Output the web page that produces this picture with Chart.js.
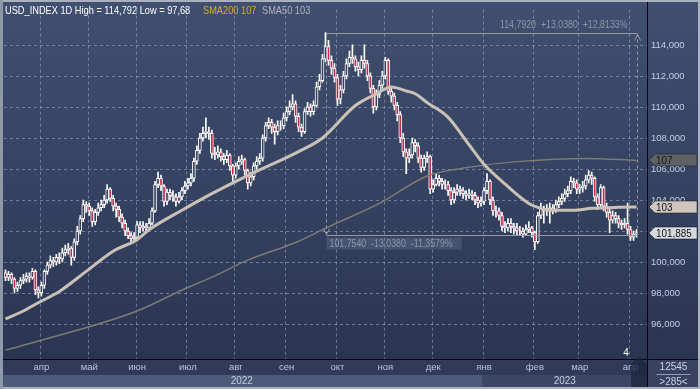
<!DOCTYPE html>
<html>
<head>
<meta charset="utf-8">
<style>
  html, body { margin: 0; padding: 0; background: #36425f; }
  canvas { display: block; }
</style>
</head>
<body>
<canvas id="myChart" width="700" height="389"></canvas>

<script src="https://cdn.jsdelivr.net/npm/chart.js"></script>

<script>
  // daily USD_INDEX candles, Mar 2022 - Apr 2023
  const firstOpen = 99.3
  const closes = [
    99.0, 99.2, 98.9, 98.3, 98.5, 98.8, 98.9, 99.1, 99.0, 99.4,
    98.2, 98.0, 98.5, 99.4, 99.8, 100.1, 100.0, 100.3, 100.2, 100.6,
    100.8, 100.9, 100.3, 101.3, 102.0, 102.8, 103.7, 103.6, 103.3, 102.6,
    103.2, 103.5, 103.7, 104.0, 104.7, 104.1, 103.6, 103.4, 102.9, 102.5,
    102.0, 101.7, 101.5, 101.6, 102.4, 102.2, 102.3, 102.2, 102.5, 103.3,
    105.0, 105.4, 104.9, 103.9, 104.5, 104.3, 104.2, 103.9, 104.2, 104.6,
    104.9, 105.1, 105.4, 106.5, 107.2, 108.0, 108.3, 108.4, 108.3, 107.0,
    106.9, 107.1, 106.8, 106.6, 106.9, 106.2, 105.6, 106.2, 106.5, 106.6,
    105.9, 105.1, 105.5, 106.2, 106.5, 106.7, 108.0, 108.8, 109.0, 108.7,
    108.4, 108.8, 108.8, 109.3, 109.7, 110.0, 110.2, 109.4, 108.7, 108.4,
    109.7, 110.0, 109.7, 110.1, 111.3, 111.7, 113.1, 113.9, 113.0, 112.5,
    111.9, 110.5, 111.1, 112.0, 112.8, 113.2, 113.1, 112.6, 112.4, 113.0,
    112.8, 112.0, 111.2, 110.0, 110.8, 111.4, 112.0, 113.0, 111.0, 110.7,
    110.1, 109.5, 108.0, 107.1, 106.7, 106.9, 107.7, 107.5, 106.7, 106.1,
    106.7, 106.8, 104.7, 105.0, 105.4, 105.2, 105.0, 105.0, 104.6, 104.0,
    104.5, 104.7, 104.6, 104.4, 104.3, 104.4, 104.3, 104.0, 103.8, 103.9,
    104.6, 105.2, 104.0, 103.3, 103.3, 103.0, 102.3, 102.2, 102.5, 102.3,
    102.2, 102.0, 102.0, 101.8, 102.1, 102.2, 101.9, 101.3, 103.0, 103.5,
    103.3, 103.4, 103.5, 103.4, 103.7, 103.9, 104.1, 104.4, 104.6, 105.2,
    105.1, 104.7, 104.8, 104.9, 105.3, 105.6, 105.4, 104.2, 103.7, 104.8,
    103.6, 103.2, 102.7, 103.0, 102.8, 102.5, 102.4, 102.5, 102.1, 101.6,
    101.8, 101.885
  ]
  const highs = [
    99.5, 99.4, 99.3, 99.0, 98.7, 99.0, 99.2, 99.3, 99.3, 99.6,
    99.5, 98.4, 98.7, 99.5, 100.0, 100.4, 100.3, 100.5, 100.6, 100.9,
    101.1, 101.2, 101.0, 101.5, 102.3, 103.0, 104.0, 103.9, 103.8, 103.5,
    103.4, 103.8, 104.0, 104.3, 105.0, 104.8, 104.3, 103.8, 103.6, 103.1,
    102.7, 102.2, 101.9, 101.9, 102.6, 102.6, 102.6, 102.5, 102.8, 103.5,
    105.2, 105.8, 105.6, 105.0, 104.7, 104.7, 104.6, 104.4, 104.5, 104.8,
    105.2, 105.4, 105.7, 106.7, 107.5, 108.3, 108.7, 109.3, 108.7, 108.5,
    107.4, 107.5, 107.3, 107.0, 107.2, 107.0, 106.3, 106.4, 106.8, 106.9,
    106.7, 106.0, 105.8, 106.4, 106.8, 107.0, 108.2, 109.0, 109.3, 109.2,
    108.9, 109.1, 109.1, 109.6, 110.0, 110.4, 110.8, 110.4, 109.6, 108.9,
    109.9, 110.3, 110.2, 110.4, 111.6, 112.1, 113.4, 114.792, 114.3, 113.3,
    112.8, 112.1, 111.4, 112.3, 113.1, 113.6, 114.0, 113.3, 112.9, 113.3,
    114.0, 113.0, 112.2, 111.4, 111.1, 111.7, 112.3, 113.2, 113.1, 111.2,
    110.9, 110.3, 109.7, 108.3, 107.3, 107.3, 108.0, 107.9, 107.7, 106.9,
    106.9, 107.1, 106.9, 105.3, 105.7, 105.6, 105.4, 105.3, 105.2, 104.8,
    104.8, 105.0, 104.9, 104.8, 104.6, 104.7, 104.6, 104.5, 104.2, 104.2,
    104.8, 105.7, 105.3, 104.2, 103.6, 103.5, 103.2, 102.6, 102.8, 102.8,
    102.5, 102.5, 102.3, 102.2, 102.4, 102.6, 102.3, 102.0, 103.2, 103.8,
    103.6, 103.7, 103.8, 103.7, 104.0, 104.2, 104.4, 104.7, 104.9, 105.5,
    105.4, 105.3, 105.0, 105.2, 105.6, 105.9, 105.8, 105.5, 104.4, 105.0,
    104.9, 103.8, 103.4, 103.3, 103.2, 103.0, 102.7, 102.8, 103.8, 102.3,
    102.0, 102.1
  ]
  const lows = [
    98.8, 98.8, 98.6, 98.0, 98.1, 98.3, 98.6, 98.7, 98.7, 98.9,
    97.9, 97.68, 97.8, 98.3, 99.2, 99.6, 99.7, 99.8, 99.9, 100.0,
    100.4, 100.5, 99.8, 100.1, 101.1, 101.8, 102.6, 103.2, 103.0, 102.3,
    102.4, 103.0, 103.3, 103.5, 103.8, 103.9, 103.3, 102.9, 102.6, 102.2,
    101.7, 101.5, 101.3, 101.3, 101.5, 101.9, 102.0, 101.9, 102.0, 102.4,
    103.2, 104.8, 104.6, 103.6, 103.7, 104.0, 103.9, 103.6, 103.8, 104.0,
    104.4, 104.7, 104.9, 105.2, 106.3, 107.0, 107.8, 108.0, 107.9, 106.7,
    106.6, 106.7, 106.5, 106.3, 106.4, 105.9, 105.2, 105.4, 106.0, 106.3,
    105.6, 104.7, 104.9, 105.3, 106.0, 106.3, 106.5, 107.8, 108.6, 108.3,
    107.6, 108.2, 108.5, 108.6, 109.1, 109.5, 109.8, 109.0, 108.4, 108.1,
    108.3, 109.5, 109.4, 109.5, 110.0, 111.1, 111.6, 112.9, 112.7, 112.1,
    111.6, 110.1, 110.2, 110.9, 111.8, 112.6, 112.8, 112.3, 112.0, 112.2,
    112.5, 111.7, 110.9, 109.6, 109.8, 110.6, 111.2, 111.8, 110.8, 110.3,
    109.8, 109.1, 107.7, 106.8, 105.7, 106.4, 106.7, 107.1, 106.4, 105.8,
    105.9, 106.4, 104.4, 104.5, 104.9, 104.9, 104.7, 104.7, 104.3, 103.7,
    103.8, 104.3, 104.3, 104.1, 104.0, 104.1, 104.0, 103.7, 103.5, 103.6,
    103.7, 104.4, 103.7, 103.0, 102.9, 102.7, 102.0, 101.9, 102.0, 101.9,
    101.8, 101.7, 101.7, 101.6, 101.7, 101.9, 101.6, 100.8, 101.2, 102.8,
    102.5, 103.0, 102.5, 103.1, 103.2, 103.5, 103.7, 103.9, 104.2, 104.4,
    104.8, 104.4, 104.4, 104.5, 104.7, 105.1, 105.0, 103.9, 103.4, 103.5,
    103.3, 102.9, 101.9, 102.5, 102.5, 102.2, 102.1, 102.2, 101.8, 101.4,
    101.4, 101.6
  ]

  // moving averages, [bar index, value]
  const sma50Knots = [
    [0, 96.33], [6, 96.84], [10, 97.28], [18, 98.1], [27, 99.4], [36, 100.7],
    [44, 101.44], [48, 102.08], [59, 103.34], [69, 104.41], [82, 105.67],
    [98, 107.12], [106, 108.0], [117, 110.09], [124, 110.85], [129, 111.29],
    [134, 111.03], [137, 110.85], [141, 110.28], [148, 109.33], [155, 107.56],
    [160, 106.3], [167, 105.04], [175, 103.78], [179, 103.46], [182, 103.34],
    [190, 103.34], [196, 103.46], [205, 103.53], [211, 103.55]
  ]
  const sma200Knots = [
    [0, 94.32], [12, 94.95], [44, 96.84], [58, 98.1], [70, 99.11], [81, 100.12],
    [97, 101.26], [108, 102.27], [125, 103.78], [141, 105.55], [155, 106.11],
    [172, 106.49], [194, 106.68], [211, 106.55]
  ]

  const monthTicks = { 12: 'апр', 28: 'май', 44: 'июн', 61: 'июл', 77: 'авг', 94: 'сен',
    111: 'окт', 127: 'ноя', 143: 'дек', 160: 'янв', 177: 'фев', 192: 'мар', 209: 'апр' }
  const yearTicks = { 79: '2022', 187: '2023' }
  const yearSplit = 160
  const yTicks = [96, 98, 100, 102, 104, 106, 108, 110, 112, 114]

  const rangeHigh = 114.792
  const rangeLow = 101.754
  const rangeFrom = 107

  const tagValues = [106.55, 103.55, 101.885]
  const tagTexts = ['107', '103', '101,885']

  const N_SLOTS = 215
  const labels = Array.from({ length: N_SLOTS }, (_, i) => String(i))
  const opens = closes.map((c, i) => i ? closes[i - 1] : firstOpen)

  function knotSeries(knots) {
    const s = new Array(closes.length).fill(null)
    knots.forEach(([i, v]) => { s[i] = v })
    return s
  }

  const fmt = (v, d) => v.toFixed(d).replace('.', ',')
  const FONT = '"Liberation Sans", sans-serif'

  // canvas text squeezed sideways, to get close to the narrow Tahoma look
  function narrowText(ctx, text, x, y, sx) {
    ctx.save()
    ctx.translate(x, y)
    ctx.scale(sx, 1)
    ctx.fillText(text, 0, 0)
    ctx.restore()
  }

  const decor = {
    id: 'decor',
    beforeDraw(chart) {
      const { ctx, chartArea: a, width, height } = chart
      const xs = chart.scales.x
      ctx.save()
      const g = ctx.createLinearGradient(0, 0, 0, a.bottom)
      g.addColorStop(0, '#415070')
      g.addColorStop(1, '#2a3553')
      ctx.fillStyle = g
      ctx.fillRect(0, 0, width, a.bottom)
      ctx.fillStyle = '#2f3b58'
      ctx.fillRect(0, a.bottom, width, 16)
      const split = xs.getPixelForValue(yearSplit) - xs.width / N_SLOTS / 2
      ctx.fillStyle = '#4b5b79'
      ctx.fillRect(0, a.bottom + 16, split, height - a.bottom - 16)
      ctx.fillStyle = '#3a4664'
      ctx.fillRect(split, a.bottom + 16, a.right - split, height - a.bottom - 16)
      ctx.fillStyle = '#36425f'
      ctx.fillRect(a.right, a.bottom, width - a.right, height - a.bottom)
      ctx.restore()
    },
    beforeDatasetsDraw(chart) {
      // dashed grid: month starts and price levels
      const { ctx, chartArea: a } = chart
      const xs = chart.scales.x, ys = chart.scales.y
      const step = xs.width / N_SLOTS
      ctx.save()
      ctx.strokeStyle = 'rgba(150,166,196,0.6)'
      ctx.lineWidth = 1
      ctx.setLineDash([3, 3])
      ctx.beginPath()
      Object.keys(monthTicks).forEach(k => {
        const x = Math.round(xs.getPixelForValue(Number(k)) - step / 2) + 0.5
        ctx.moveTo(x, a.top); ctx.lineTo(x, a.bottom)
      })
      yTicks.forEach(v => {
        const y = Math.round(ys.getPixelForValue(v)) + 0.5
        ctx.moveTo(a.left, y); ctx.lineTo(a.right, y)
      })
      ctx.stroke()
      ctx.restore()
    },
    afterDatasetsDraw(chart) {
      const { ctx } = chart
      const xs = chart.scales.x, ys = chart.scales.y
      const xl = Math.round(xs.getPixelForValue(rangeFrom)) + 0.5
      const xr = Math.round(xs.getPixelForValue(closes.length - 1)) + 0.5
      const yt = Math.round(ys.getPixelForValue(rangeHigh)) + 0.5
      const yb = Math.round(ys.getPixelForValue(rangeLow)) + 0.5
      ctx.save()
      ctx.strokeStyle = '#9499a4'
      ctx.lineWidth = 1
      ctx.beginPath()
      ctx.moveTo(xl, yt); ctx.lineTo(xr, yt)
      ctx.moveTo(xl, yb); ctx.lineTo(xr, yb)
      ctx.stroke()
      ctx.setLineDash([3, 3])
      ctx.beginPath()
      ctx.moveTo(xl, yt); ctx.lineTo(xl, yb)
      ctx.moveTo(xr, yt); ctx.lineTo(xr, yb)
      ctx.stroke()
      ctx.setLineDash([])
      ctx.beginPath()
      ctx.moveTo(xr - 3, yt + 7); ctx.lineTo(xr, yt + 1); ctx.lineTo(xr + 3, yt + 7)
      ctx.moveTo(xl - 3, yb - 7); ctx.lineTo(xl, yb - 1); ctx.lineTo(xl + 3, yb - 7)
      ctx.stroke()

      const diff = rangeHigh - rangeLow
      const sx = 0.88
      ctx.font = '10px ' + FONT
      ctx.fillStyle = '#8d96a9'
      ctx.textBaseline = 'alphabetic'
      ctx.textAlign = 'left'
      const highText = fmt(rangeHigh, 4) + '  +' + fmt(diff, 4) + '  +' + fmt(diff / rangeLow * 100, 4) + '%'
      const hw = ctx.measureText(highText).width * sx
      narrowText(ctx, highText, xr - 10 - hw, yt - 6, sx)
      const lowText = fmt(rangeLow, 4) + '  -' + fmt(diff, 4) + '  -' + fmt(diff / rangeHigh * 100, 4) + '%'
      const lw = ctx.measureText(lowText).width * sx
      ctx.fillStyle = 'rgba(110,125,150,0.35)'
      ctx.fillRect(xl, yb + 2, lw + 12, 12)
      ctx.fillStyle = '#8d96a9'
      narrowText(ctx, lowText, xl + 3, yb + 11, sx)
      ctx.restore()
    },
    afterDraw(chart) {
      const { ctx, chartArea: a, width, height } = chart
      const ys = chart.scales.y
      ctx.save()
      // separators
      ctx.strokeStyle = '#05070c'
      ctx.lineWidth = 1
      ctx.beginPath()
      ctx.moveTo(0, a.bottom + 0.5); ctx.lineTo(width, a.bottom + 0.5)
      ctx.moveTo(a.right + 0.5, 0); ctx.lineTo(a.right + 0.5, height)
      ctx.stroke()

      // title
      const sx = 0.84
      ctx.font = '11px ' + FONT
      ctx.textBaseline = 'alphabetic'
      ctx.textAlign = 'left'
      ctx.fillStyle = '#ffffff'
      narrowText(ctx, 'USD_INDEX 1D High = ' + fmt(Math.max(...highs), 3) + ' Low = ' + fmt(Math.min(...lows), 2), 5, 14, sx)
      ctx.fillStyle = '#d6a834'
      narrowText(ctx, 'SMA200 107', 203, 14, sx)
      ctx.fillStyle = '#aeb2ba'
      narrowText(ctx, 'SMA50 103', 262, 14, sx)

      // price tags on the axis
      const tagFill = ['#5c6266', '#cfc7bd', '#d6dade']
      tagValues.forEach((v, k) => {
        const y = Math.round(ys.getPixelForValue(v))
        const x0 = a.right + 2, x1 = width - 3
        ctx.beginPath()
        ctx.moveTo(x0, y)
        ctx.lineTo(x0 + 6, y - 6)
        ctx.lineTo(x1, y - 6)
        ctx.lineTo(x1, y + 6)
        ctx.lineTo(x0 + 6, y + 6)
        ctx.closePath()
        ctx.fillStyle = tagFill[k]
        ctx.fill()
        ctx.strokeStyle = 'rgba(20,20,20,0.5)'
        ctx.stroke()
        ctx.fillStyle = '#141414'
        ctx.font = '11px ' + FONT
        ctx.textBaseline = 'middle'
        narrowText(ctx, tagTexts[k], x0 + 7, y + 1, 0.9)
      })

      // bottom-right cell
      const cx = (a.right + width) / 2
      ctx.fillStyle = '#c8d3e6'
      ctx.textAlign = 'center'
      ctx.textBaseline = 'middle'
      ctx.font = '10px ' + FONT
      ctx.fillText('12545', cx, a.bottom + 8)
      ctx.fillText('>285<', cx, a.bottom + 23)
      ctx.strokeStyle = '#8f9bb2'
      ctx.beginPath()
      ctx.moveTo(cx - 17, a.bottom + 15.5); ctx.lineTo(cx + 17, a.bottom + 15.5)
      ctx.stroke()

      // scroll handle + last day
      ctx.fillStyle = '#ffffff'
      ctx.fillText('4', a.right - 21, a.bottom - 6)
      ctx.fillStyle = 'rgba(28,38,62,0.75)'
      ctx.beginPath()
      ctx.moveTo(a.right - 16, height - 2)
      ctx.lineTo(a.right - 16, a.bottom + 5)
      ctx.lineTo(a.right - 8, a.bottom - 3)
      ctx.lineTo(a.right, a.bottom + 5)
      ctx.lineTo(a.right, height - 2)
      ctx.closePath()
      ctx.fill()

      // frame
      ctx.strokeStyle = '#a9b1be'
      ctx.lineWidth = 2
      ctx.strokeRect(1, 1, width - 2, height - 2)
      ctx.fillStyle = '#8e98a9'
      ctx.fillRect(0, 0, 3, height)
      ctx.restore()
    }
  }

  const ctx = document.getElementById('myChart')

  new Chart(ctx, {
    type: 'bar',
    data: {
      labels: labels,
      datasets: [
        {
          label: 'SMA50',
          type: 'line',
          data: knotSeries(sma50Knots),
          borderColor: '#c9c1b5',
          borderWidth: 3,
          pointRadius: 0,
          spanGaps: true,
          cubicInterpolationMode: 'monotone',
          order: 0
        },
        {
          label: 'SMA200',
          type: 'line',
          data: knotSeries(sma200Knots),
          borderColor: '#7e7a74',
          borderWidth: 1.5,
          pointRadius: 0,
          spanGaps: true,
          cubicInterpolationMode: 'monotone',
          order: 1
        },
        {
          label: 'body',
          data: closes.map((c, i) => [opens[i], c]),
          backgroundColor: closes.map((c, i) => c < opens[i] ? '#c42c4a' : '#34415f'),
          borderColor: '#ffffff',
          borderWidth: 1,
          borderSkipped: false,
          barThickness: 3,
          grouped: false,
          order: 2
        },
        {
          label: 'wick',
          data: lows.map((l, i) => [l, highs[i]]),
          backgroundColor: '#ffffff',
          barThickness: 1,
          grouped: false,
          order: 3
        }
      ]
    },
    options: {
      responsive: false,
      devicePixelRatio: 1,
      animation: false,
      events: [],
      layout: { padding: { left: 4, top: 2, right: 0, bottom: 0 } },
      plugins: { legend: { display: false }, tooltip: { enabled: false } },
      scales: {
        x: {
          type: 'category',
          offset: true,
          weight: 0,
          grid: { display: false, drawTicks: false },
          border: { display: false },
          ticks: {
            autoSkip: false,
            maxRotation: 0,
            padding: 3,
            color: '#b9c4da',
            font: { family: 'Liberation Sans', size: 9.5 },
            callback: (v, i) => monthTicks[i] ?? null
          },
          afterFit: (s) => { s.height = 16 }
        },
        x2: {
          type: 'category',
          position: 'bottom',
          offset: true,
          weight: 1,
          grid: { display: false, drawTicks: false },
          border: { display: false },
          ticks: {
            autoSkip: false,
            maxRotation: 0,
            padding: 0,
            color: '#c4cee2',
            font: { family: 'Liberation Sans', size: 10 },
            callback: (v, i) => yearTicks[i] ?? null
          },
          afterFit: (s) => { s.height = 14 }
        },
        y: {
          position: 'right',
          min: 93.747,
          max: 116.27,
          grid: { display: false, drawTicks: false },
          border: { display: false },
          afterBuildTicks: (s) => { s.ticks = yTicks.map(v => ({ value: v })) },
          ticks: {
            padding: 4,
            color: '#c4cee2',
            font: { family: 'Liberation Sans', size: 9.5 },
            callback: (v) => fmt(v, 3)
          },
          afterFit: (s) => { s.width = 53 }
        }
      }
    },
    plugins: [decor]
  })
</script>
</body>
</html>
